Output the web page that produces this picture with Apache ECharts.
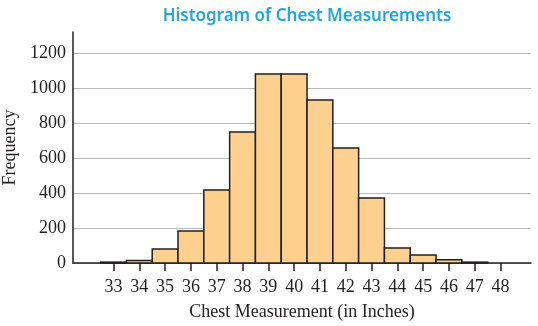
<!DOCTYPE html>
<html>
<head>
<meta charset="utf-8">
<script src="https://cdn.jsdelivr.net/npm/echarts@6/dist/echarts.min.js"></script>
<style>html,body{margin:0;padding:0;background:#fff;}#chart{width:538px;height:326px;}</style>
</head>
<body>
<div id="chart"></div>
<script>
var chestSizes = [33, 34, 35, 36, 37, 38, 39, 40, 41, 42, 43, 44, 45, 46, 47, 48];
var frequencies = [5, 15, 80, 183, 417, 748, 1080, 1080, 931, 657, 371, 86, 46, 19, 5, 0];
var xTickValues = [33, 34, 35, 36, 37, 38, 39, 40, 41, 42, 43, 44, 45, 46, 47, 48];
var yTickValues = [0, 200, 400, 600, 800, 1000, 1200];

var serif = 'Liberation Serif';
var ink = '#231f20';
var chart = echarts.init(document.getElementById('chart'), null, {renderer: 'canvas'});
var data = chestSizes.map(function (c, i) { return [c, frequencies[i]]; });

chart.setOption({
  animation: false,
  title: {
    text: 'Histogram of Chest Measurements',
    left: 302, top: 3, textAlign: 'center',
    textStyle: {fontFamily: 'Noto Sans', fontWeight: 600, fontSize: 17, color: '#21a5e3'}
  },
  grid: {left: 73, right: 7, top: 32, bottom: 63, containLabel: false, outerBoundsMode: 'none'},
  xAxis: {
    type: 'value', min: 31.43, max: 49.18,
    name: 'Chest Measurement (in Inches)', nameLocation: 'middle', nameGap: 40,
    nameTextStyle: {fontFamily: serif, fontSize: 18, color: ink},
    axisLine: {show: true, lineStyle: {color: ink, width: 1.5}},
    axisTick: {show: true, length: 8, customValues: xTickValues, lineStyle: {color: ink, width: 1.5}},
    axisLabel: {customValues: xTickValues, margin: 15, fontFamily: serif, fontSize: 18, color: ink,
      formatter: function (v) { return String(v); }},
    splitLine: {show: false}
  },
  yAxis: {
    type: 'value', min: 0, max: 1320, interval: 200,
    name: 'Frequency', nameLocation: 'middle', nameGap: 52,
    nameTextStyle: {fontFamily: serif, fontSize: 18, color: ink},
    axisLine: {show: true, lineStyle: {color: ink, width: 1.5}},
    axisTick: {show: false},
    axisLabel: {customValues: yTickValues, margin: 7, fontFamily: serif, fontSize: 18, color: ink,
      formatter: function (v) { return String(v); }},
    splitLine: {show: true, showMaxLine: false, lineStyle: {color: '#b9b9b9', width: 1.2}}
  },
  series: [{
    type: 'custom',
    data: data,
    encode: {x: 0, y: 1},
    renderItem: function (params, api) {
      var x = api.value(0), y = api.value(1);
      var p1 = api.coord([x - 0.5, y]);
      var p0 = api.coord([x + 0.5, 0]);
      if (y <= 0) return null;
      return {
        type: 'rect',
        shape: {x: p1[0], y: p1[1], width: p0[0] - p1[0], height: p0[1] - p1[1]},
        style: {fill: '#fdd08f', stroke: ink, lineWidth: 1.5}
      };
    }
  }]
});
</script>
</body>
</html>
